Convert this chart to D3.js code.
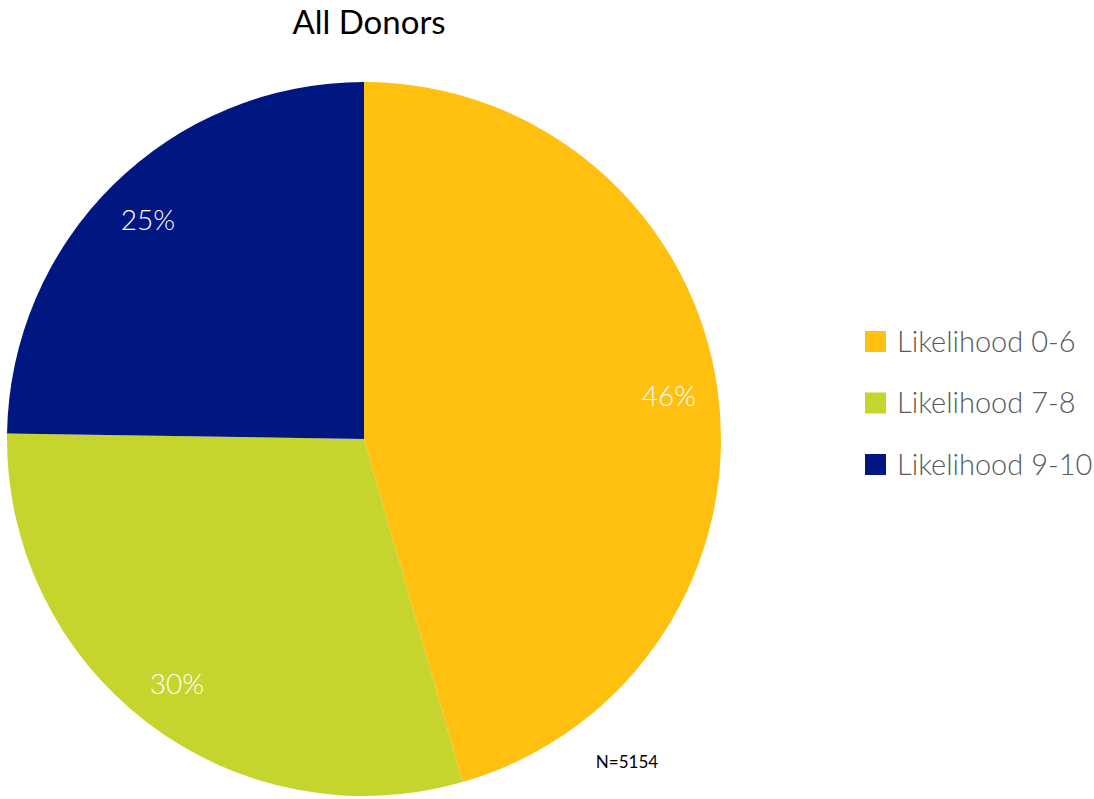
<!DOCTYPE html>
<html>
<head>
<meta charset="utf-8">
<script src="https://cdn.jsdelivr.net/npm/d3@7"></script>
<style>
  html, body { margin: 0; padding: 0; background: #fff; }
  svg { display: block; font-family: Lato, "Noto Sans", sans-serif; }
</style>
</head>
<body>
<svg id="chart" width="1094" height="799"></svg>
<script>
// Share of donors by likelihood band (percent)
const categories = ["Likelihood 0-6", "Likelihood 7-8", "Likelihood 9-10"];
const values = [46, 30, 25];
const colors = ["#FFC00F", "#C5D52D", "#001681"];
const title = "All Donors";
const note = "N=5154";

const svg = d3.select("#chart");
const cx = 364, cy = 439, radius = 357;

const pie = d3.pie().sort(null).value(d => d);
const arcs = pie(values);
const arc = d3.arc().innerRadius(0).outerRadius(radius);
const labelArc = d3.arc().innerRadius(308).outerRadius(308);

const g = svg.append("g").attr("transform", `translate(${cx},${cy})`);

g.selectAll("path.slice")
  .data(arcs)
  .join("path")
  .attr("class", "slice")
  .attr("d", arc)
  .attr("fill", (d, i) => colors[i]);

g.selectAll("text.pct")
  .data(arcs)
  .join("text")
  .attr("class", "pct")
  .attr("transform", d => `translate(${labelArc.centroid(d)})`)
  .attr("text-anchor", "middle")
  .attr("dy", "0.36em")
  .attr("fill", "#fff")
  .attr("font-size", 28)
  .attr("font-weight", 300)
  .text(d => d.data + "%");

// Title
svg.append("text")
  .attr("x", 369).attr("y", 34)
  .attr("text-anchor", "middle")
  .attr("font-size", 33)
  .attr("fill", "#000")
  .text(title);

// Sample size note
svg.append("text")
  .attr("x", 627).attr("y", 768)
  .attr("text-anchor", "middle")
  .attr("font-size", 17)
  .attr("fill", "#000")
  .text(note);

// Legend
const legend = svg.append("g").attr("transform", "translate(865,331)");
const row = legend.selectAll("g.item")
  .data(categories)
  .join("g")
  .attr("class", "item")
  .attr("transform", (d, i) => `translate(0,${i * 61.5})`);

row.append("rect")
  .attr("width", 21).attr("height", 21)
  .attr("fill", (d, i) => colors[i]);

row.append("text")
  .attr("x", 32).attr("y", 10.5)
  .attr("dy", "0.36em")
  .attr("font-size", 29)
  .attr("font-weight", 300)
  .attr("fill", "#595959")
  .text(d => d);
</script>
</body>
</html>
